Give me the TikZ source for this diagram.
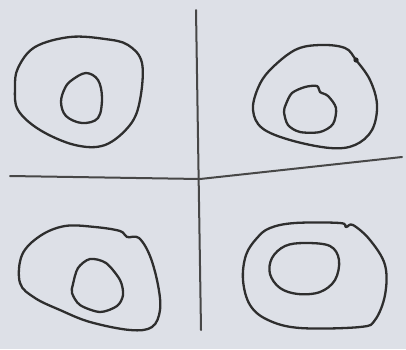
\documentclass[tikz,border=0pt]{standalone}
\begin{document}
\begin{tikzpicture}[x=1pt,y=-1pt,
  ink/.style={draw=black!82,line width=2.3pt,line join=round,line cap=round},
  rule/.style={draw=black!72,line width=2pt,line cap=round}]
\fill[color={rgb,255:red,221;green,224;blue,231}] (0,0) rectangle (406,349);
\useasboundingbox (0,0) rectangle (406,349);
% dividing lines
\coordinate (vt) at (196,10);
\coordinate (vb) at (201,330);
\draw[rule] (vt) -- (vb);
\coordinate (hl) at (10,176);
\coordinate (hm) at (200,179);
\coordinate (hr) at (402,157);
\draw[rule] (hl) -- (hm) -- (hr);
% top-left
\draw[ink] plot[smooth cycle,tension=0.6] coordinates {(18,68) (35,47) (70,37) (105,39) (128,45) (142,63) (140,100) (130,125) (105,145) (75,145) (40,130) (18,110) (15,88)};
\draw[ink] plot[smooth cycle,tension=0.6] coordinates {(72,80) (86,73) (98,80) (102,98) (98,118) (82,123) (66,116) (61,102) (65,88)};
% top-right
\draw[ink] plot[smooth cycle,tension=0.6] coordinates {(270,70) (295,50) (320,45) (345,48) (356,60) (370,80) (377,105) (372,130) (355,145) (330,148) (290,140) (262,128) (253,110) (258,88)};
\fill[black!85] (356,60) circle (2.6);
\draw[ink] plot[smooth cycle,tension=0.5] coordinates {(286,104) (292,93) (305,87) (317,86) (320,92) (328,96) (336,108) (333,124) (320,132) (300,132) (288,125) (284,112)};
% bottom-left
\draw[ink] plot[smooth cycle,tension=0.6] coordinates {(22,255) (40,236) (65,226) (95,227) (120,231) (127,237) (139,238) (150,256) (158,285) (160,310) (152,327) (130,330) (90,322) (60,310) (35,298) (20,283)};
\draw[ink] plot[smooth cycle,tension=0.5] coordinates {(73,284) (78,268) (90,259) (106,263) (120,280) (123,295) (117,306) (100,312) (80,305) (72,293)};
% bottom-right
\draw[ink] plot[smooth cycle,tension=0.6] coordinates {(246,255) (257,238) (270,228) (295,223) (340,223) (346,227) (353,225) (370,240) (385,265) (385,295) (375,320) (360,327) (300,328) (268,320) (250,305) (243,280)};
\draw[ink] plot[smooth cycle,tension=0.6] coordinates {(272,258) (285,246) (305,243) (330,246) (339,260) (335,280) (320,292) (298,294) (280,288) (270,274)};
\end{tikzpicture}
\end{document}
